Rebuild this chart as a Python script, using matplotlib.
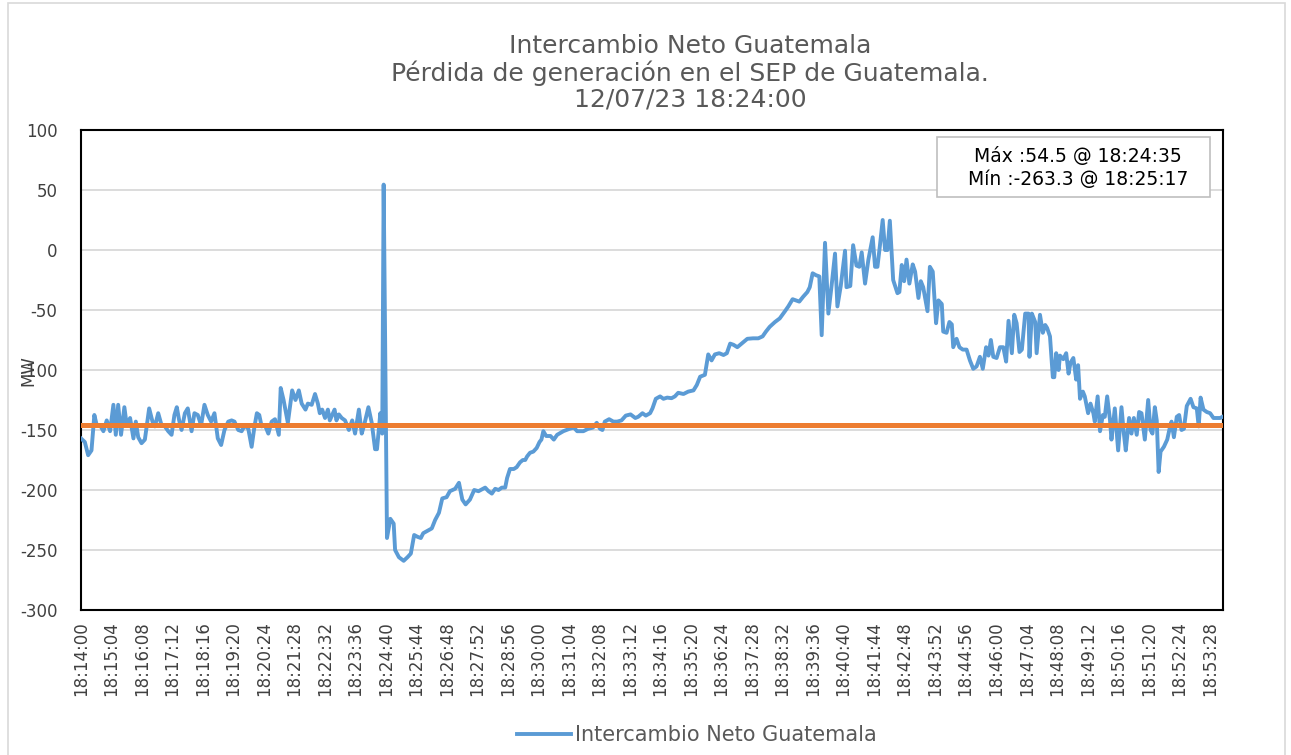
import matplotlib
matplotlib.use('Agg')
import matplotlib.pyplot as plt
from matplotlib.patches import Rectangle
from matplotlib.ticker import FuncFormatter, MultipleLocator

plt.rcParams['axes.unicode_minus'] = False

# segundos desde 18:14:00 y potencia (MW)
segundos = [0, 8, 15, 22, 28, 33, 40, 47, 54, 61, 68, 73, 78, 84, 91, 96, 103, 110, 115, 120,
            127, 134, 143, 150, 155, 162, 169, 176, 183, 190, 196, 201, 206, 211, 218, 224, 229,
            232, 238, 245, 252, 259, 266, 273, 280, 287, 294, 301, 309, 316, 322, 330, 337, 344,
            351, 358, 364, 369, 374, 379, 386, 393, 400, 407, 415, 419, 425,
            434, 443, 450, 457, 463, 471, 476, 484, 491, 497, 501, 506, 512, 518, 522, 532, 536,
            541, 547, 554, 562, 569, 575, 583, 589, 594, 603, 610, 617, 621, 628, 632, 635, 642,
            649, 656, 659, 667, 677, 685, 692, 699, 706, 713, 718, 727, 736, 743, 751, 758, 767,
            774, 785, 793, 800, 807, 816, 825, 834,
            848, 855, 862, 869, 876, 883, 890, 894, 900, 908, 914, 921, 927, 932, 936, 942, 949,
            956, 962, 966, 970, 976, 985, 992, 999, 1012, 1025, 1034, 1041, 1054, 1064, 1074,
            1082, 1089, 1094, 1099, 1108, 1117, 1125, 1134, 1143, 1153, 1163, 1169, 1178, 1185,
            1194, 1199, 1206, 1215, 1222, 1230,
            1239, 1246, 1253, 1264, 1274, 1285, 1292, 1299, 1309, 1316, 1323, 1330, 1339, 1348,
            1355, 1362, 1369, 1377, 1386, 1398, 1410, 1421, 1430, 1437, 1445, 1456, 1466, 1477,
            1484, 1493, 1500, 1507, 1515, 1524, 1529, 1535, 1542, 1549,
            1554, 1561, 1568, 1575, 1582, 1587, 1594, 1603, 1606, 1614, 1620, 1627, 1633, 1638,
            1645, 1652, 1661, 1666, 1671, 1676, 1682, 1687, 1692, 1697, 1704, 1713, 1717, 1722,
            1727, 1732, 1738, 1745, 1750, 1757, 1762, 1767, 1776, 1781, 1787, 1794, 1799, 1806,
            1809, 1816, 1822, 1827, 1830, 1837, 1843, 1850, 1858, 1865, 1872, 1879, 1886, 1892,
            1899, 1904, 1909, 1914, 1921,
            1928, 1935, 1941, 1946, 1953, 1958, 1963, 1969, 1974, 1981, 1988, 1990, 1995, 2002,
            2005, 2012, 2018, 2023, 2027, 2033, 2039, 2042, 2046, 2051, 2054, 2061, 2067, 2072,
            2076, 2082, 2088, 2092, 2096, 2102, 2106, 2113, 2118, 2124, 2127, 2133, 2138, 2144,
            2148, 2153, 2159, 2162, 2169, 2176, 2183, 2188, 2192, 2199, 2204, 2209, 2215, 2220,
            2225, 2232, 2239, 2244, 2248, 2253, 2257, 2261, 2265, 2272, 2279, 2285, 2288, 2293,
            2299, 2304, 2309, 2314, 2320, 2328, 2334, 2341, 2345, 2349, 2355, 2362, 2369, 2376,
            2383, 2390, 2395]

mw = [-157, -160, -171, -167, -137.5, -146, -146, -151, -142, -151, -129, -154, -129, -154, -131,
      -146, -140, -157, -143, -156, -161, -158, -132, -143, -147, -136, -146, -147, -151, -154,
      -137.5, -131, -142, -150, -136, -132, -144, -151, -136, -137.5, -146, -129, -137.5, -143,
      -136, -157, -162.5, -150, -143, -142, -143, -150, -151, -146, -149, -164, -147, -136,
      -137.5, -147, -146, -153, -143, -141, -154, -115, -125,
      -144, -117, -125, -117, -128, -133, -128, -129, -120, -128, -136, -133, -140, -133, -142,
      -133, -142, -137, -140, -142, -150, -142, -153, -133, -153, -146, -131, -144, -166, -166,
      -136, -153, 54.5, -240, -224, -228, -250, -256, -259, -256, -253, -237.5, -239, -240,
      -236, -234, -232, -225, -219, -207, -206, -201, -199, -194, -208, -212, -208, -200, -201,
      -198, -201, -203, -199, -200, -198, -198, -190, -182.5, -182.5, -181, -177, -175, -175,
      -172, -169, -168, -165, -160, -158, -151, -155, -155, -158, -154, -151, -149, -148, -151,
      -151, -149, -148, -144, -149, -150, -143, -141, -143, -143, -142, -138, -137, -140, -139,
      -136, -138, -136, -132, -124, -122, -124, -123,
      -123.5, -122, -119, -120, -118, -117, -112.5, -105.6, -104, -87, -92, -87, -86, -87.5,
      -86, -78, -79, -81, -78, -74, -73.6, -73.6, -72, -68, -64, -60, -57, -51, -47, -41, -42,
      -43, -39, -35, -31, -19.4, -21, -22,
      -71, 6, -53, -29, -3, -47, -30, -0.6, -31, -30, 4, -13, -14, -2, -28, -8, 10.6, -14, -14,
      3, 25, 0, 0, 24.4, -25, -36, -35, -12.5, -26, -8, -28, -12, -18, -40, -26, -31, -51, -14,
      -18, -61, -42, -45, -68, -69, -60, -62, -81, -74, -81, -83, -83, -92, -99, -97, -89, -99,
      -81, -88, -75, -89, -90,
      -81, -81, -93, -59, -86, -54, -61, -85, -83, -53, -53, -89, -53, -60, -86, -54, -69, -62.5,
      -65, -72, -106, -106, -86, -100, -88, -91, -86, -103, -94, -90, -108, -96, -124, -118,
      -122, -136, -128, -136, -143, -122, -151, -137.5, -139, -122, -142, -158, -132, -167,
      -131, -153, -167, -140, -153, -140, -154, -135, -136, -158, -125, -150, -153, -131, -142,
      -185, -168, -164, -158, -147, -143, -156, -139, -137.5, -150, -149, -130, -124, -131,
      -132, -147, -123, -133, -135, -136, -140, -140, -140, -139]

referencia = -146
paso_ticks = 64
fin = 2396

titulo = 'Intercambio Neto Guatemala\nPérdida de generación en el SEP de Guatemala.\n12/07/23 18:24:00'
nota = 'Máx :54.5 @ 18:24:35\nMín :-263.3 @ 18:25:17'


def hora(s, pos=None):
    s = int(round(s)) + 18 * 3600 + 14 * 60
    h, r = divmod(s, 3600)
    m, sec = divmod(r, 60)
    return '%02d:%02d:%02d' % (h, m, sec)


fig = plt.figure(figsize=(12.91, 7.55), dpi=100)
ax = fig.add_axes([81 / 1291, 1 - 610 / 755, (1223 - 81) / 1291, 480 / 755])

# marco exterior del grafico
fig.patches.append(Rectangle((8 / 1291, -0.01), 1277 / 1291, 1.0 - 3 / 755 + 0.01,
                             transform=fig.transFigure, fill=False,
                             edgecolor='#d9d9d9', lw=1.2))

ax.plot(segundos, mw, color='#5b9bd5', lw=2.8, label='Intercambio Neto Guatemala', zorder=3)
ax.axhline(referencia, color='#ed7d31', lw=3.6, zorder=4)

ax.set_xlim(0, fin)
ax.set_ylim(-300, 100)
ax.yaxis.set_major_locator(MultipleLocator(50))
ax.xaxis.set_major_locator(MultipleLocator(paso_ticks))
ax.xaxis.set_major_formatter(FuncFormatter(hora))
ax.grid(True, axis='y', color='#d9d9d9', lw=1.3, zorder=0)
ax.tick_params(length=0, labelsize=12, labelcolor='#404040')
ax.tick_params(axis='x', rotation=90, pad=8)
ax.tick_params(axis='y', pad=17)
for sp in ax.spines.values():
    sp.set_color('black')
    sp.set_linewidth(1.5)

fig.text(28 / 1291, 1 - 371 / 755, 'MW', rotation=90, fontsize=12, color='#404040',
         ha='center', va='center')

fig.text(690 / 1291, 1 - 73 / 755, titulo, ha='center', va='center', fontsize=18,
         color='#595959', linespacing=1.1)

# cuadro con maximo y minimo
ax.add_patch(Rectangle(((937 - 81) / 1142, (610 - 197) / 480), 273 / 1142, 60 / 480,
                       transform=ax.transAxes, facecolor='white', edgecolor='#bfbfbf',
                       lw=1.2, zorder=6))
ax.text((1078 - 81) / 1142, (610 - 168) / 480, nota, transform=ax.transAxes, ha='center',
        va='center', fontsize=13.5, color='black', linespacing=1.25, zorder=7)

fig.legend(loc='center', bbox_to_anchor=(697 / 1291, 1 - 735 / 755), frameon=False,
           fontsize=15, handlelength=2.6, handletextpad=0.2, labelcolor='#595959')

fig.savefig('out.png', dpi=100)
